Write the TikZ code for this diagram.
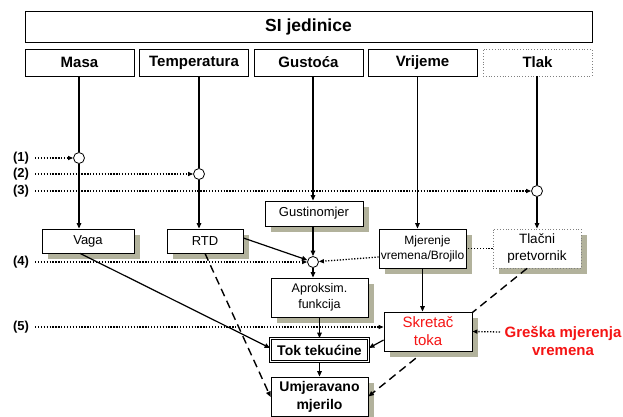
\documentclass[tikz,border=0pt]{standalone}
\usepackage{fontspec}
\setmainfont{Liberation Sans}
\usetikzlibrary{arrows.meta,shadows}
\definecolor{shc}{RGB}{178,178,156}
\definecolor{redtxt}{RGB}{245,20,20}
\begin{document}
\begin{tikzpicture}[x=1pt,y=-1pt,
  box/.style={draw, line width=0.8pt, fill=white, inner sep=0pt, align=center},
  topbox/.style={box, minimum width=109pt, minimum height=27pt, font=\fontsize{15}{18}\selectfont\bfseries},
  sbox/.style={box, drop shadow={shadow xshift=6pt, shadow yshift=-6pt, fill=shc, opacity=1, draw=none}},
  txt/.style={font=\fontsize{13}{16}\selectfont},
  circ/.style={circle, draw, line width=0.8pt, fill=white, minimum size=11pt, inner sep=0pt},
  arr/.style={-{Triangle[length=5.5pt,width=4.5pt]}, line width=1.2pt},
  dots/.style={line width=1.3pt, dash pattern=on 1.3pt off 1.6pt},
  dashl/.style={line width=1.4pt, dash pattern=on 8pt off 5pt},
  lab/.style={font=\fontsize{13}{15}\selectfont\bfseries, inner sep=0pt}
]
\useasboundingbox (0,0) rectangle (623,417);
\fill[white] (0,0) rectangle (623,417);

% top row
\node[box, minimum width=567pt, minimum height=31pt, font=\fontsize{17.5}{20}\selectfont\bfseries] (si) at (308.5,26.5) {SI jedinice};
\node[topbox] (masa) at (79.5,62.5) {Masa};
\node[topbox] (temp) at (194,62.5) {Temperatura};
\node[topbox] (gust) at (308.5,62.5) {Gusto\'{c}a};
\node[topbox] (vrij) at (422.5,62.5) {Vrijeme};
\node[topbox, draw=gray, dotted] (tlak) at (537.5,62.5) {Tlak};

% circles
\node[circ] (c1) at (79,158) {};
\node[circ] (c2) at (199,174) {};
\node[circ] (c3) at (537,191) {};
\node[circ] (c4) at (313,262) {};

% labels
\node[lab] (l1) at (21,158) {(1)};
\node[lab] (l2) at (21,174) {(2)};
\node[lab] (l3) at (21,191) {(3)};
\node[lab] (l4) at (21,262) {(4)};
\node[lab] (l5) at (21,327) {(5)};
\coordinate (s1) at (35,158);
\coordinate (s2) at (35,174);
\coordinate (s3) at (35,191);
\coordinate (s4) at (35,262);
\coordinate (s5) at (35,327);
\coordinate (g) at (500,332);

% second level boxes
\node[sbox, txt, minimum width=92pt, minimum height=24pt] (vaga) at (88,241) {Vaga};
\node[sbox, txt, minimum width=76pt, minimum height=24pt] (rtd) at (205,241) {RTD};
\node[sbox, txt, minimum width=98pt, minimum height=25pt] (gustm) at (314,213.5) {Gustinomjer};
\node[sbox, font=\fontsize{12}{15}\selectfont, minimum width=87pt, minimum height=39pt] (mjer) at (422.5,248.5) {\hspace*{10pt}Mjerenje\\vremena/Brojilo};
\node[sbox, draw=gray, dotted, font=\fontsize{13.5}{16.5}\selectfont, minimum width=88pt, minimum height=39pt] (tlacni) at (537,248.5) {Tla\v{c}ni\\pretvornik};
\node[sbox, font=\fontsize{12.5}{15.5}\selectfont, minimum width=97pt, minimum height=39pt] (aprok) at (319.5,297.5) {Aproksim.\\funkcija};
\node[box, double, double distance=1.4pt, font=\fontsize{14}{17}\selectfont\bfseries, minimum width=98pt, minimum height=23pt] (tok) at (319.5,350) {Tok teku\'{c}ine};
\node[sbox, font=\fontsize{14}{18}\selectfont\bfseries, minimum width=97pt, minimum height=39pt] (umj) at (319.5,396.5) {Umjeravano\\mjerilo};

% dashed line from Tlacni behind Skretac
\draw[dashl, -{Triangle[length=5.5pt,width=4.5pt]}] ([xshift=-10pt]tlacni.south) -- (umj.east);

\node[sbox, text=redtxt, font=\fontsize{15}{18}\selectfont, minimum width=88pt, minimum height=39pt] (skr) at (428,331.5) {Skreta\v{c}\\toka};
\node[text=redtxt, font=\fontsize{15}{18}\selectfont\bfseries, align=center, inner sep=0pt] (gr) at (563,341) {Gre\v{s}ka mjerenja\\vremena};

% vertical connectors
\draw[line width=1.2pt] (c1 |- masa.south) -- (c1);
\draw[line width=1.2pt] (c2 |- temp.south) -- (c2);
\draw[line width=1.2pt] (c3 |- tlak.south) -- (c3);
\draw[arr] (c1) -- (c1 |- vaga.north);
\draw[arr] (c2) -- (c2 |- rtd.north);
\draw[arr] (c3) -- (c3 |- tlacni.north);
\draw[arr] (c4 |- gust.south) -- (c4 |- gustm.north);
\draw[arr] ([xshift=-5pt]vrij.south) -- ([xshift=-5pt]mjer.north);
\draw[arr] (c4 |- gustm.south) -- (c4);
\draw[arr] ([yshift=3pt]rtd.east) -- (c4);
\draw[arr] (c4) -- (c4 |- aprok.north);
\draw[arr] (aprok.south) -- (tok.north);
\draw[arr] (tok.south) -- (umj.north);
\draw[arr] (mjer.south) -- (mjer.south |- skr.north);
\draw[arr] ([xshift=-8pt]vaga.south) -- ([yshift=2pt]tok.west);
\draw[arr] ([yshift=-8.5pt]skr.west) -- ([yshift=2pt]tok.east);

% dotted
\draw[dots, -{Triangle[length=5pt,width=4pt]}] (s1) -- (c1);
\draw[dots, -{Triangle[length=5pt,width=4pt]}] (s2) -- (c2);
\draw[dots, -{Triangle[length=5pt,width=4pt]}] (s3) -- (c3);
\draw[dots, -{Triangle[length=5pt,width=4pt]}] (s4) -- (c4);
\draw[dots, -{Triangle[length=5pt,width=4pt]}] ([yshift=-8.5pt]mjer.west) -- (c4);
\draw[dots] (tlacni.west) -- (mjer.east);
\draw[dots, -{Triangle[length=5pt,width=4pt]}] (s5) -- ([yshift=4.5pt]skr.west);
\draw[dots, -{Triangle[length=5pt,width=4pt]}] (g) -- (skr.east);

% dashed from RTD
\draw[dashl, -{Triangle[length=5.5pt,width=4.5pt]}] (rtd.south) -- ([yshift=-0.5pt]umj.west);
\end{tikzpicture}
\end{document}
